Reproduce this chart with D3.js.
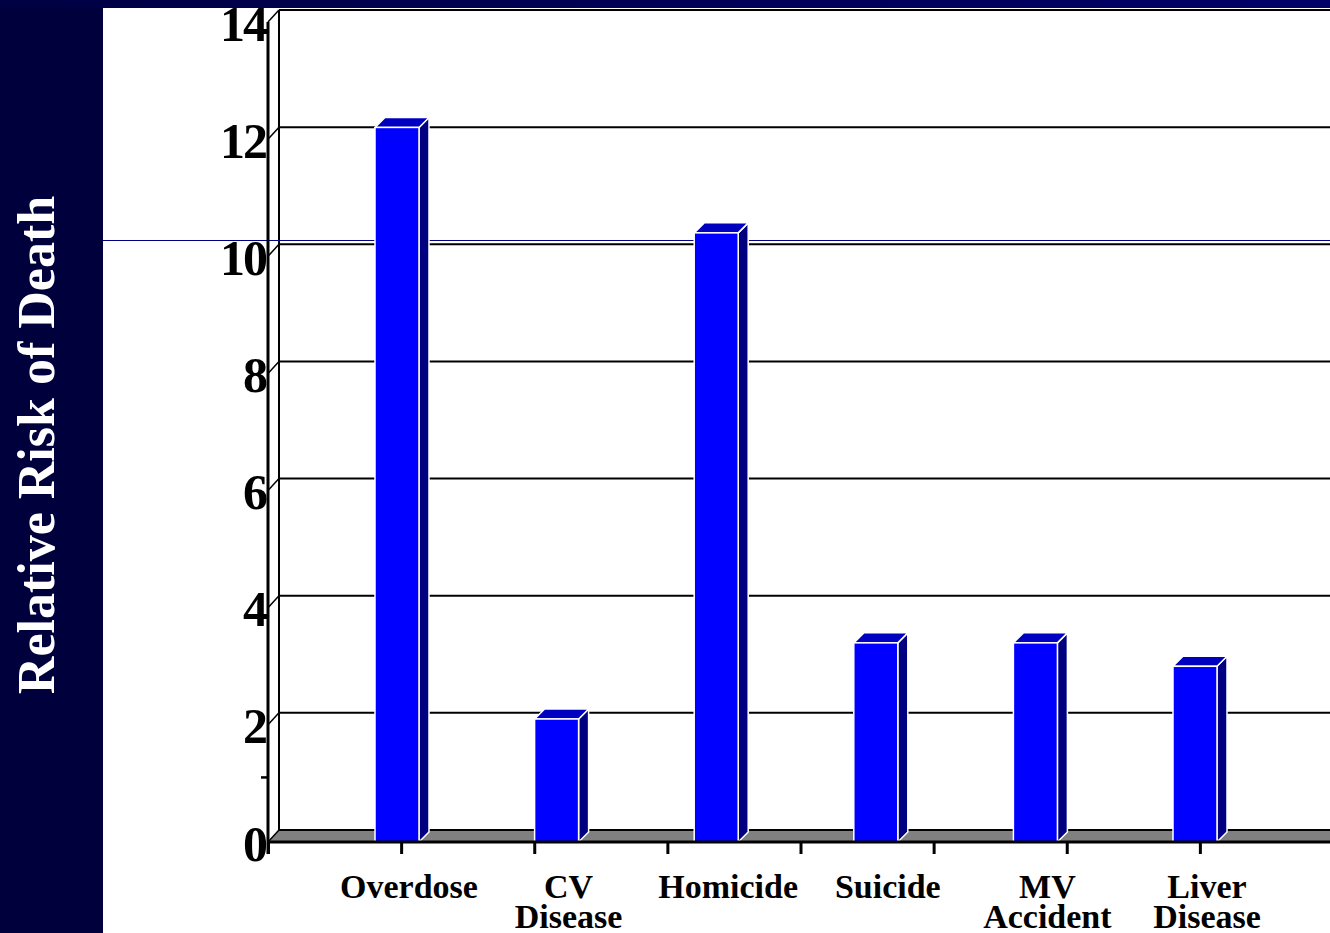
<!DOCTYPE html>
<html>
<head>
<meta charset="utf-8">
<script src="https://cdn.jsdelivr.net/npm/d3@7"></script>
<style>
  body { margin: 0; background: #fff; }
  svg { display: block; }
</style>
</head>
<body>
<div id="chart"></div>
<script>
// categories and relative risk values
var categories = ["Overdose", "CV Disease", "Homicide", "Suicide", "MV Accident", "Liver Disease"];
var labelLines = [["Overdose"], ["CV", "Disease"], ["Homicide"], ["Suicide"], ["MV", "Accident"], ["Liver", "Disease"]];
var risk = [12.2, 2.1, 10.4, 3.4, 3.4, 3.0];
var yTicks = [0, 2, 4, 6, 8, 10, 12, 14];

var width = 1330;
var height = 933;
var depth = 12;      // 3d offset of the axis walls
var barDepth = 10;   // 3d offset of the bars
var barW = 44;

var svg = d3.select("#chart").
append("svg").
attr("width", width).
attr("height", height);

// backdrop: dark side panel, white slide area
svg.append("rect").attr("x", 0).attr("y", 0).attr("width", width).attr("height", height).attr("fill", "#ffffff");
svg.append("rect").attr("x", 0).attr("y", 0).attr("width", 103).attr("height", height).attr("fill", "#00003c");

// back wall scale, front scale is the same shifted down by depth
var yBack = d3.scaleLinear().domain([0, 14]).range([830, 10]);
var yFront = function (v) {return yBack(v) + depth;};
var x0 = 268;            // front left of plot
var xRight = width;

var xBar = d3.scalePoint().domain(categories).range([397, 1195]);
var xTick = d3.scaleLinear().domain([0, 8]).range([x0, 1333]);

// floor
svg.append("polygon").
attr("points", [[x0, yFront(0)], [x0 + 11, yBack(0)], [xRight, yBack(0)], [xRight, yFront(0)]].join(" ")).
attr("fill", "#808080");
svg.append("line").attr("x1", x0 + 11).attr("x2", xRight).attr("y1", yBack(0)).attr("y2", yBack(0)).
attr("stroke", "#000").attr("stroke-width", 2);

// gridlines on back wall + diagonal connectors
svg.selectAll(".grid").
data(yTicks.filter(function (d) {return d > 0;})).
enter().
append("line").
attr("class", "grid").
attr("x1", x0 + 11).
attr("x2", xRight).
attr("y1", function (d) {return yBack(d);}).
attr("y2", function (d) {return yBack(d);}).
attr("stroke", "#000").
attr("stroke-width", 2);

svg.selectAll(".diag").
data(yTicks).
enter().
append("line").
attr("class", "diag").
attr("x1", x0).
attr("x2", x0 + 11).
attr("y1", function (d) {return yFront(d);}).
attr("y2", function (d) {return yBack(d);}).
attr("stroke", "#000").
attr("stroke-width", 1.5);

// back wall left edge
svg.append("line").attr("x1", x0 + 11).attr("x2", x0 + 11).attr("y1", yBack(14)).attr("y2", yBack(0)).
attr("stroke", "#000").attr("stroke-width", 2);

// thin navy rule across the slide
svg.append("line").attr("x1", 103).attr("x2", width).attr("y1", 240.5).attr("y2", 240.5).
attr("stroke", "#000080").attr("stroke-width", 1);

// bars
var bars = svg.selectAll(".bar").
data(risk).
enter().
append("g").
attr("class", "bar");

bars.append("polygon").
attr("points", function (d, i) {
   var xl = xBar(categories[i]) - barW / 2,xr = xl + barW,yt = yFront(d);
   return [[xr, yt], [xr + barDepth, yt - barDepth], [xr + barDepth, yFront(0) - barDepth], [xr, yFront(0)]].join(" ");
}).
attr("fill", "#000080").
attr("stroke", "#ffffff").
attr("stroke-width", 1.5).
attr("stroke-linejoin", "round");

bars.append("polygon").
attr("points", function (d, i) {
   var xl = xBar(categories[i]) - barW / 2,xr = xl + barW,yt = yFront(d);
   return [[xl, yt], [xl + barDepth, yt - barDepth], [xr + barDepth, yt - barDepth], [xr, yt]].join(" ");
}).
attr("fill", "#0000c0").
attr("stroke", "#ffffff").
attr("stroke-width", 1.5).
attr("stroke-linejoin", "round");

bars.append("rect").
attr("x", function (d, i) {return xBar(categories[i]) - barW / 2;}).
attr("y", function (d) {return yFront(d);}).
attr("width", barW).
attr("height", function (d) {return yFront(0) - yFront(d);}).
attr("fill", "#0000ff").
attr("stroke", "#ffffff").
attr("stroke-width", 1.5);

// front baseline + category ticks
var xAxis = d3.axisBottom(xTick).
tickValues(d3.range(0, 8)).
tickSize(12).
tickFormat("");

svg.append("g").
attr("transform", "translate(0," + yFront(0) + ")").
call(xAxis).
call(function (g) {
   g.select(".domain").remove();
   g.selectAll(".tick line").attr("stroke", "#000").attr("stroke-width", 3);
});

svg.append("line").attr("x1", x0).attr("x2", xRight).attr("y1", yFront(0)).attr("y2", yFront(0)).
attr("stroke", "#000").attr("stroke-width", 3);

// front y axis
var yAxisScale = d3.scaleLinear().domain([0, 14]).range([yFront(0), yFront(14)]);
var yAxis = d3.axisLeft(yAxisScale).
tickValues(yTicks).
tickSize(0).
tickPadding(2);

svg.append("g").
attr("transform", "translate(" + x0 + ",0)").
attr("id", "y-axis").
call(yAxis).
call(function (g) {
   g.select(".domain").remove();
   g.selectAll("text").
   attr("dy", "0.36em").
   style("font-family", "Liberation Serif, Times New Roman, serif").
   style("font-weight", "bold").
   style("font-size", "50px").
   style("letter-spacing", "-2px").
   attr("fill", "#000");
});

svg.append("line").attr("x1", x0).attr("x2", x0).attr("y1", yFront(14)).attr("y2", yFront(0) + 12).
attr("stroke", "#000").attr("stroke-width", 3);
// small minor tick on the front axis
svg.append("line").attr("x1", x0 - 7).attr("x2", x0).attr("y1", yAxisScale(1) - 6).attr("y2", yAxisScale(1) - 6).
attr("stroke", "#000").attr("stroke-width", 2.5);

// category labels
var labels = svg.selectAll(".catLabel").
data(labelLines).
enter().
append("text").
attr("class", "catLabel").
attr("x", function (d, i) {return xBar(categories[i]) + 12;}).
attr("y", 898).
style("text-anchor", "middle").
style("font-family", "Liberation Serif, Times New Roman, serif").
style("font-weight", "bold").
style("font-size", "34px").
attr("fill", "#000");

labels.selectAll("tspan").
data(function (d) {return d;}).
enter().
append("tspan").
attr("x", function () {return d3.select(this.parentNode).attr("x");}).
attr("dy", function (d, j) {return j == 0 ? 0 : 30;}).
text(function (d) {return d;});

// top navy band (drawn last so it clips the "14")
var grad = svg.append("defs").append("linearGradient").attr("id", "band");
grad.append("stop").attr("offset", "0%").attr("stop-color", "#000044");
grad.append("stop").attr("offset", "100%").attr("stop-color", "#000068");
svg.append("rect").attr("x", 0).attr("y", 0).attr("width", width).attr("height", 8).attr("fill", "url(#band)");

// y axis title
svg.append("text").
attr("transform", "translate(" + 54 + ", " + 445 + ") rotate(-90)").
style("text-anchor", "middle").
style("font-family", "Liberation Serif, Times New Roman, serif").
style("font-weight", "bold").
style("font-size", "52px").
attr("fill", "#ffffff").
text("Relative Risk of Death");
</script>
</body>
</html>
